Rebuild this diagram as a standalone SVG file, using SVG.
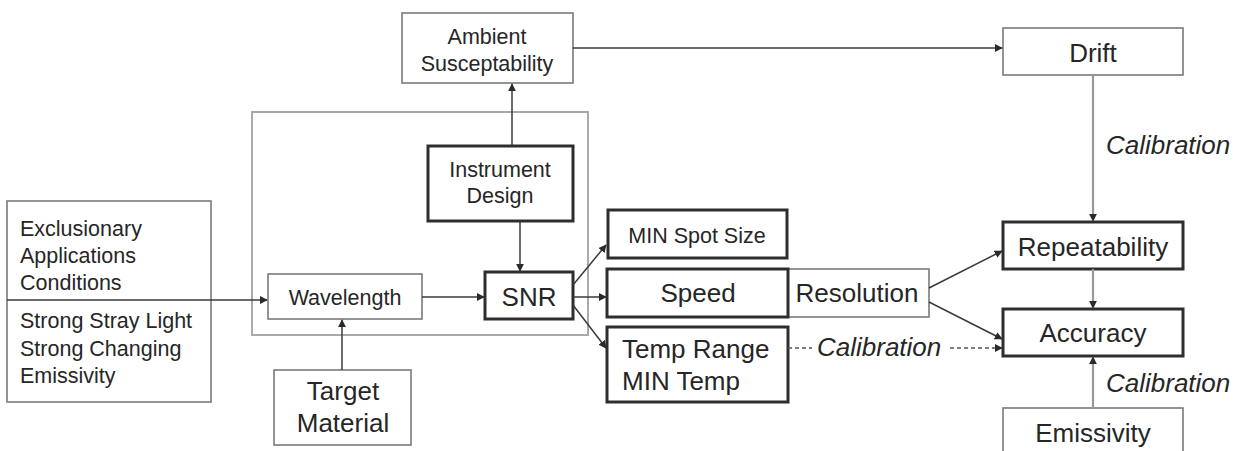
<svg xmlns="http://www.w3.org/2000/svg" width="1242" height="451" viewBox="0 0 1242 451">
<style>
text{font-family:"Liberation Sans",Arial,sans-serif;fill:#262626}
.s{font-size:21.5px}
.l{font-size:26px}
.c{text-anchor:middle}
.i{font-style:italic}
.thin{fill:#fff;stroke:#7a7a7a;stroke-width:1.6}
.thick{fill:#fff;stroke:#2e2e2e;stroke-width:3}
.cont{fill:none;stroke:#aaa;stroke-width:2}
.e{fill:none;stroke:#3a3a3a;stroke-width:1.5}
.g{fill:none;stroke:#999;stroke-width:2.2}
.d{fill:none;stroke:#555;stroke-width:1.4;stroke-dasharray:4 3}
</style>
<defs>
<marker id="a" viewBox="0 0 10 10" refX="9" refY="5" markerWidth="8" markerHeight="8" markerUnits="userSpaceOnUse" orient="auto">
<path d="M0,0 L10,5 L0,10 z" fill="#2a2a2a"/>
</marker>
</defs>
<rect id="container" class="cont" x="252" y="112" width="336" height="223"/>
<g id="left">
<rect class="thin" x="7" y="201" width="204" height="201"/>
<text class="s" x="20" y="236">Exclusionary</text>
<text class="s" x="20" y="263">Applications</text>
<text class="s" x="20" y="290">Conditions</text>
<text class="s" x="20" y="328">Strong Stray Light</text>
<text class="s" x="20" y="356">Strong Changing</text>
<text class="s" x="20" y="383">Emissivity</text>
</g>
<g id="ambient">
<rect class="thin" x="402" y="13" width="171" height="70"/>
<text class="s c" x="487" y="44">Ambient</text>
<text class="s c" x="487" y="71">Susceptability</text>
</g>
<g id="instrument">
<rect class="thick" x="428" y="146" width="145" height="75"/>
<text class="s c" x="500" y="177">Instrument</text>
<text class="s c" x="500" y="203">Design</text>
</g>
<g id="wavelength">
<rect class="thin" x="268" y="274" width="154" height="45"/>
<text class="s c" x="345" y="305">Wavelength</text>
</g>
<g id="snr">
<rect class="thick" x="485" y="272" width="88" height="47"/>
<text class="l c" x="529" y="306">SNR</text>
</g>
<g id="target">
<rect class="thin" x="274" y="370" width="137" height="75"/>
<text class="l c" x="343" y="400">Target</text>
<text class="l c" x="343" y="432">Material</text>
</g>
<g id="spot">
<rect class="thick" x="608" y="210" width="179" height="48"/>
<text class="s c" x="697" y="243">MIN Spot Size</text>
</g>
<g id="resolution">
<rect class="thin" x="788" y="269" width="141" height="48"/>
<text class="l c" x="857" y="302">Resolution</text>
</g>
<g id="speed">
<rect class="thick" x="607" y="269" width="181" height="48"/>
<text class="l c" x="698" y="302">Speed</text>
</g>
<g id="temp">
<rect class="thick" x="607" y="327" width="181" height="75"/>
<text class="l" x="622" y="358">Temp Range</text>
<text class="l" x="622" y="390">MIN Temp</text>
</g>
<g id="drift">
<rect class="thin" x="1003" y="28" width="180" height="47"/>
<text class="l c" x="1093" y="62">Drift</text>
</g>
<g id="repeatability">
<rect class="thick" x="1003" y="222" width="180" height="47"/>
<text class="l c" x="1093" y="256">Repeatability</text>
</g>
<g id="accuracy">
<rect class="thick" x="1003" y="309" width="180" height="47"/>
<text class="l c" x="1093" y="342">Accuracy</text>
</g>
<g id="emissivity">
<rect class="thin" x="1003" y="408" width="180" height="60"/>
<text class="l c" x="1093" y="442">Emissivity</text>
</g>
<g id="connectors">
<path class="e" d="M7,300 H267" marker-end="url(#a)"/>
<path class="e" d="M422,297 H484" marker-end="url(#a)"/>
<path class="e" d="M342,370 V320" marker-end="url(#a)"/>
<path class="e" d="M512,146 V84" marker-end="url(#a)"/>
<path class="e" d="M520,221 V271" marker-end="url(#a)"/>
<path class="e" d="M573,48 H1002" marker-end="url(#a)"/>
<path class="e" d="M573,285 L606,245" marker-end="url(#a)"/>
<path class="e" d="M573,297 H606" marker-end="url(#a)"/>
<path class="e" d="M573,305 L606,348" marker-end="url(#a)"/>
<path class="e" d="M929,288 L1002,251" marker-end="url(#a)"/>
<path class="e" d="M929,302 L1002,339" marker-end="url(#a)"/>
<path class="d" d="M788,348 H812 M950,348 H1002" marker-end="url(#a)"/>
<text class="l i" x="817" y="356">Calibration</text>
<path class="g" d="M1093,75 V221" marker-end="url(#a)"/>
<text class="l i" x="1106" y="154">Calibration</text>
<path class="g" d="M1093,269 V308" marker-end="url(#a)"/>
<path class="g" d="M1093,408 V357" marker-end="url(#a)"/>
<text class="l i" x="1106" y="392">Calibration</text>
</g>
</svg>
